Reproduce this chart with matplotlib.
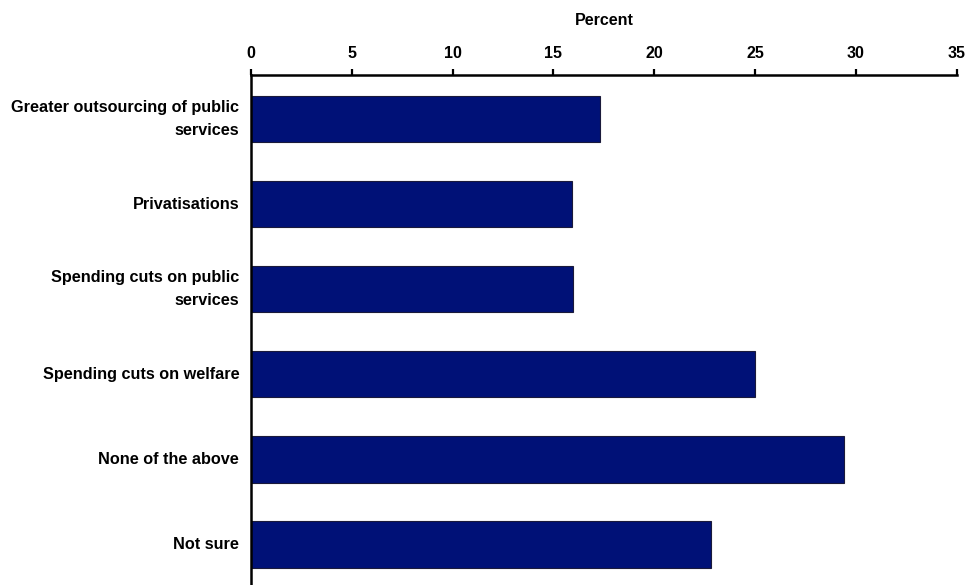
import numpy as np
import matplotlib
matplotlib.use('Agg')
import matplotlib.pyplot as plt

plt.rcParams['font.family'] = ['Liberation Sans', 'DejaVu Sans']
plt.rcParams['font.weight'] = 'bold'

categories = ['Greater outsourcing of public\nservices', 'Privatisations',
              'Spending cuts on public\nservices', 'Spending cuts on welfare',
              'None of the above', 'Not sure']
percent = [17.3, 15.9, 15.95, 25.0, 29.4, 22.8]
xticks = [0, 5, 10, 15, 20, 25, 30, 35]

fig = plt.figure(figsize=(9.65, 5.85), dpi=100)
ax = fig.add_axes([251/965, 0, (956.7-251)/965, 1 - 75/585])

y = np.arange(len(categories))
ax.barh(y, percent, height=0.55, color='#001177', edgecolor='#1a1a3a', linewidth=0.8)

ax.set_xlim(0, 35)
ax.set_ylim(5.48, -0.517)
ax.set_xticks(xticks)
ax.set_yticks(y)
ax.set_yticklabels(categories, fontsize=11.7, fontweight='bold', linespacing=1.6,
                   va='center')

ax.xaxis.tick_top()
ax.xaxis.set_label_position('top')
ax.set_xlabel('Percent', fontsize=11.5, fontweight='bold', labelpad=15)
ax.tick_params(axis='x', direction='out', length=4, width=1.6, labelsize=11.5, pad=6)
ax.tick_params(axis='y', length=0, pad=8.5)

for s in ['right', 'bottom']:
    ax.spines[s].set_visible(False)
for s in ['top', 'left']:
    ax.spines[s].set_linewidth(1.8)

fig.savefig('out.png', dpi=100)
